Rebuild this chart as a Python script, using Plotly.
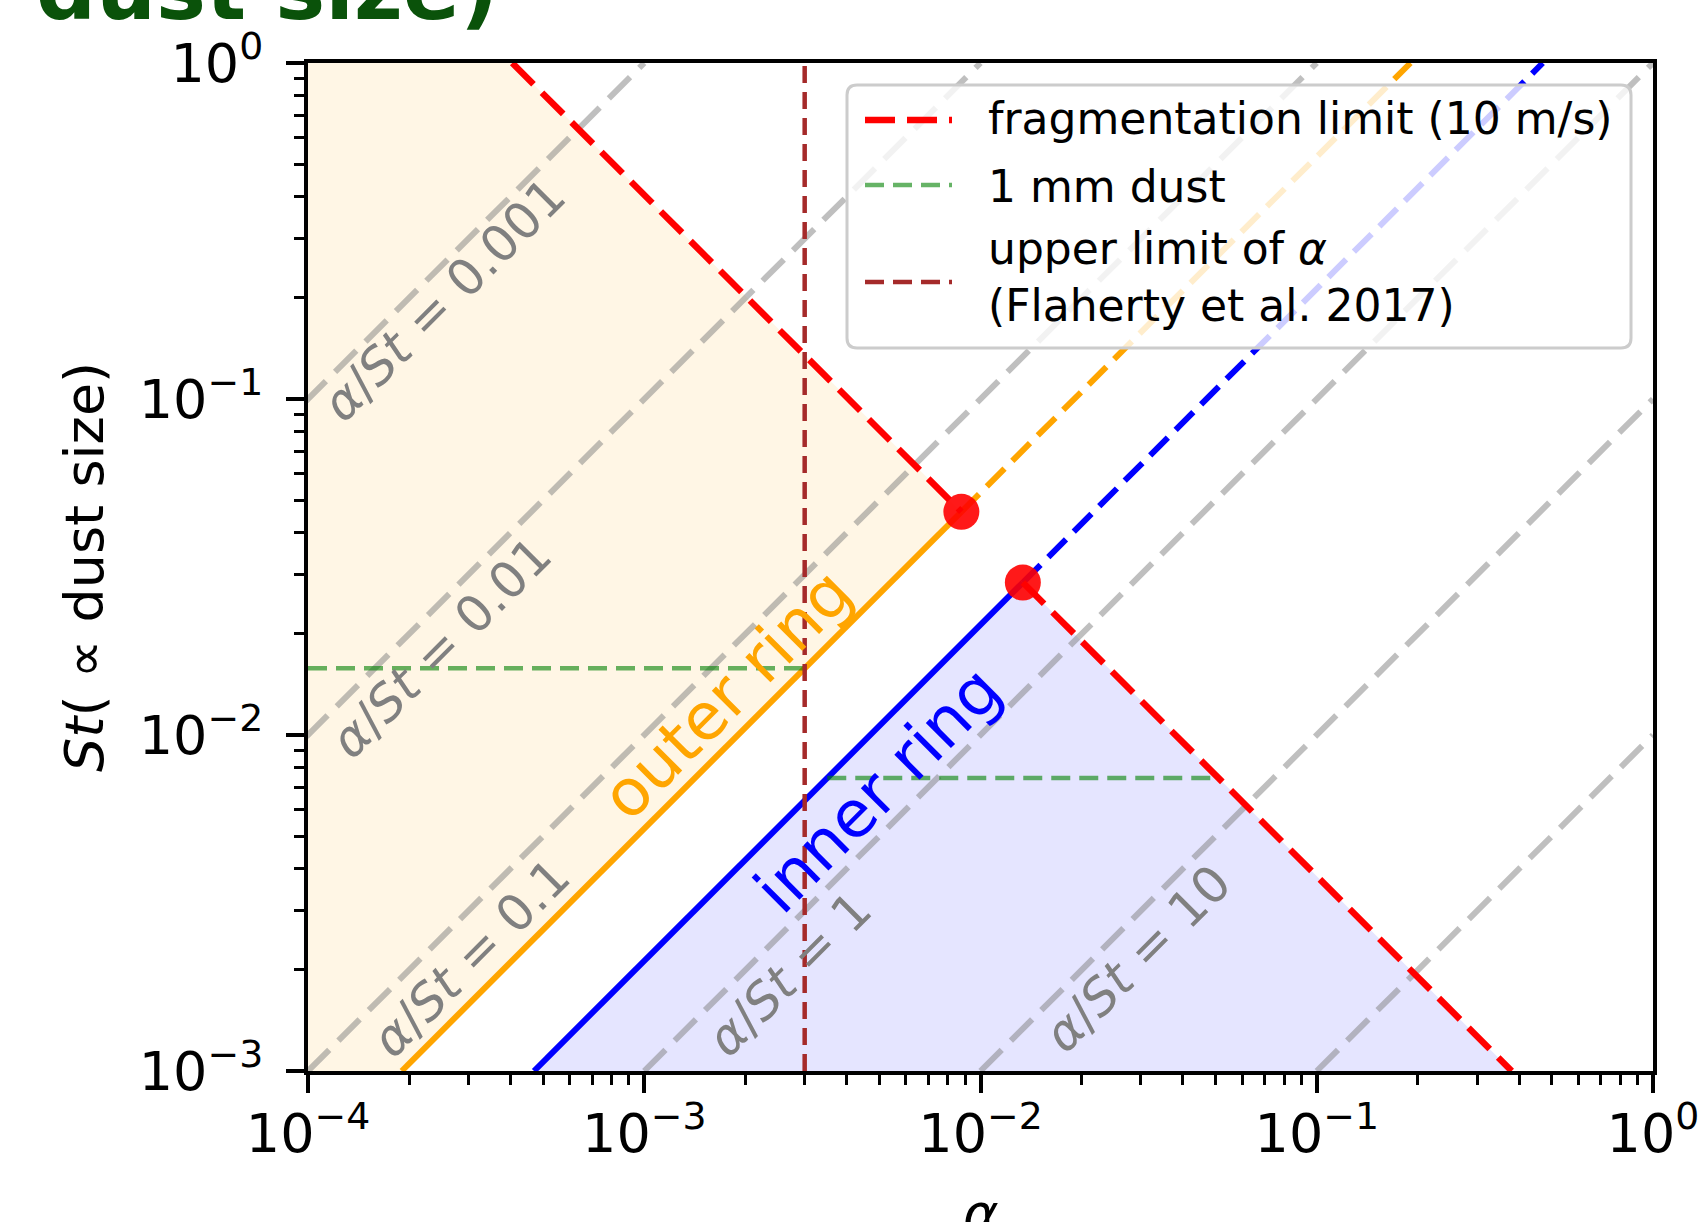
import numpy as np
import plotly.graph_objects as go

# ---------------- data ----------------
alpha_min, alpha_max = 1e-4, 1.0          # x-axis range (alpha)
st_min, st_max = 1e-3, 1.0                # y-axis range (Stokes number)

ratio_values = [0.001, 0.01, 0.1, 1, 10, 100]      # grey guide lines alpha/St
ratio_labels = ["0.001", "0.01", "0.1", "1", "10"]  # labelled guide lines

ring_names = ["outer ring", "inner ring"]
ring_ratio = [0.19, 0.47]            # alpha/St along each ring line
ring_frag_const = [4.05e-4, 3.8e-4]  # St_frag * alpha (fragmentation limit, 10 m/s)
ring_st_1mm = [0.0158, 0.00745]      # St of 1 mm dust in each ring
alpha_upper = 3e-3                   # upper limit of alpha (Flaherty et al. 2017)

x_tick_vals = [1e-4, 1e-3, 1e-2, 1e-1, 1e0]
x_tick_text = ["10<sup>−4</sup>", "10<sup>−3</sup>", "10<sup>−2</sup>", "10<sup>−1</sup>", "10<sup>0</sup>"]
y_tick_vals = [1e-3, 1e-2, 1e-1, 1e0]
y_tick_text = ["10<sup>−3</sup>", "10<sup>−2</sup>", "10<sup>−1</sup>", "10<sup>0</sup>"]

legend_labels = ["fragmentation limit (10 m/s)", "1 mm dust",
                 "upper limit of <i>α</i><br>(Flaherty et al. 2017)"]

# ---------------- styling / placement ----------------
FONT = "DejaVu Sans"
ORANGE, BLUE, RED = "#FFA500", "#0000FF", "#FF0000"
GREEN = "rgba(0,128,0,0.6)"
BROWN = "#A52A2A"
GREY_LINE = "rgba(128,128,128,0.5)"
ring_colors = [ORANGE, BLUE]
ring_fill = ["rgba(255,165,0,0.1)", "rgba(0,0,255,0.1)"]

L, R, T, B = 308, 53, 63, 151
W, H = 1706, 1222
PW, PH = W - L - R, H - T - B


def px_x(px):
    return (px - L) / PW


def px_y(py):
    return (T + PH - py) / PH


minor_x = [m * 10.0 ** e for e in range(-4, 0) for m in range(2, 10)]
minor_y = [m * 10.0 ** e for e in range(-3, 0) for m in range(2, 10)]

fig = go.Figure()

# intersections of ring lines with fragmentation limits
dot_alpha = [np.sqrt(r * k) for r, k in zip(ring_ratio, ring_frag_const)]
dot_st = [np.sqrt(k / r) for r, k in zip(ring_ratio, ring_frag_const)]

# ---- filled regions ----
r, k = ring_ratio[0], ring_frag_const[0]
fig.add_trace(go.Scatter(
    x=[alpha_min, alpha_min, k / st_max, dot_alpha[0], r * st_min, alpha_min],
    y=[st_min, st_max, st_max, dot_st[0], st_min, st_min],
    fill="toself", fillcolor=ring_fill[0], mode="lines", line=dict(width=0),
    hoverinfo="skip", showlegend=False))
r, k = ring_ratio[1], ring_frag_const[1]
fig.add_trace(go.Scatter(
    x=[r * st_min, dot_alpha[1], k / st_min, r * st_min],
    y=[st_min, dot_st[1], st_min, st_min],
    fill="toself", fillcolor=ring_fill[1], mode="lines", line=dict(width=0),
    hoverinfo="skip", showlegend=False))

# ---- grey alpha/St guide lines ----
for rv in ratio_values:
    s_top = min(st_max, alpha_max / rv)
    fig.add_trace(go.Scatter(
        x=[rv * st_min, rv * s_top], y=[st_min, s_top], mode="lines",
        line=dict(color=GREY_LINE, width=6, dash="30px,13px"),
        hoverinfo="skip", showlegend=False))

# ---- ring lines ----
for i in range(2):
    r = ring_ratio[i]
    fig.add_trace(go.Scatter(
        x=[r * st_min, dot_alpha[i]], y=[st_min, dot_st[i]], mode="lines",
        line=dict(color=ring_colors[i], width=6), showlegend=False, name=ring_names[i]))
    fig.add_trace(go.Scatter(
        x=[dot_alpha[i], r * st_max], y=[dot_st[i], st_max], mode="lines",
        line=dict(color=ring_colors[i], width=6, dash="25px,11px"), showlegend=False))

# ---- fragmentation limits ----
k = ring_frag_const[0]
fig.add_trace(go.Scatter(
    x=[k / st_max, dot_alpha[0]], y=[st_max, dot_st[0]], mode="lines",
    line=dict(color=RED, width=6.5, dash="30px,12px"), showlegend=False,
    name=legend_labels[0]))
k = ring_frag_const[1]
fig.add_trace(go.Scatter(
    x=[dot_alpha[1], k / st_min], y=[dot_st[1], st_min], mode="lines",
    line=dict(color=RED, width=6.5, dash="30px,12px"), showlegend=False))

# ---- 1 mm dust ----
s1 = ring_st_1mm[0]
fig.add_trace(go.Scatter(
    x=[alpha_min, ring_ratio[0] * s1], y=[s1, s1], mode="lines",
    line=dict(color=GREEN, width=4.5, dash="19px,9px"), showlegend=False, name="1 mm dust"))
s1 = ring_st_1mm[1]
fig.add_trace(go.Scatter(
    x=[ring_ratio[1] * s1, ring_frag_const[1] / s1], y=[s1, s1], mode="lines",
    line=dict(color=GREEN, width=4.5, dash="19px,9px"), showlegend=False))

# ---- upper limit of alpha ----
fig.add_trace(go.Scatter(
    x=[alpha_upper, alpha_upper], y=[st_min, st_max], mode="lines",
    line=dict(color=BROWN, width=4.5, dash="17px,9px"), showlegend=False))

# ---- intersection dots ----
fig.add_trace(go.Scatter(
    x=dot_alpha, y=dot_st, mode="markers",
    marker=dict(color="rgba(255,0,0,0.9)", size=36, line=dict(width=0)),
    showlegend=False))

# ---------------- annotations ----------------
ann = []
grey_label_pos = [(-3.596, -0.705), (-3.605, -1.740), (-3.515, -2.664),
                  (-2.568, -2.711), (-1.533, -2.668)]
for lab, (lx, ly) in zip(ratio_labels, grey_label_pos):
    ann.append(dict(x=lx, y=ly, xref="x", yref="y", showarrow=False,
                    xanchor="center", yanchor="middle",
                    text="<i>α</i>/<i>St</i> = " + lab, textangle=-45,
                    font=dict(family=FONT, size=50, color="#808080")))
ring_label_pos = [(-2.756, -1.878), (-2.306, -2.161)]
for i, (lx, ly) in enumerate(ring_label_pos):
    ann.append(dict(x=lx, y=ly, xref="x", yref="y", showarrow=False,
                    xanchor="center", yanchor="middle",
                    text=ring_names[i], textangle=-45,
                    font=dict(family=FONT, size=65, color=ring_colors[i])))

# axis titles
ann.append(dict(x=px_x(84), y=0.5, xref="paper", yref="paper", showarrow=False,
                xanchor="center", yanchor="middle",
                text="<i>St</i>( ∝ dust size)", textangle=-90,
                font=dict(family=FONT, size=54, color="black")))
ann.append(dict(x=0.5, y=px_y(1213), xref="paper", yref="paper", showarrow=False,
                xanchor="center", yanchor="middle",
                text="<i>α</i>", font=dict(family=FONT, size=54, color="black")))
# clipped title fragment
ann.append(dict(x=px_x(34), y=px_y(-10), xref="paper", yref="paper", showarrow=False,
                xanchor="left", yanchor="middle", text="<b>dust size)</b>",
                font=dict(family=FONT, size=84, color="#0a520a")))

# ---- legend (drawn as shapes + text) ----
bx0, bx1, by0, by1 = px_x(847), px_x(1631), px_y(348), px_y(85)
rx, ry = 10 / PW, 10 / PH
box_path = (f"M {bx0+rx},{by1} L {bx1-rx},{by1} Q {bx1},{by1} {bx1},{by1-ry} "
            f"L {bx1},{by0+ry} Q {bx1},{by0} {bx1-rx},{by0} L {bx0+rx},{by0} "
            f"Q {bx0},{by0} {bx0},{by0+ry} L {bx0},{by1-ry} Q {bx0},{by1} {bx0+rx},{by1} Z")
shapes = [dict(type="path", path=box_path, xref="paper", yref="paper", layer="above",
               fillcolor="rgba(255,255,255,0.8)", line=dict(color="#cccccc", width=3))]
legend_styles = [(RED, 6.5, "30px,12px"), (GREEN, 4.5, "19px,9px"), (BROWN, 4.5, "19px,9px")]
legend_sym_y = [120, 185, 282]
legend_txt_y = [118, 186, 277]
for lab, (c, w, d), sy, ty in zip(legend_labels, legend_styles, legend_sym_y, legend_txt_y):
    shapes.append(dict(type="line", xref="paper", yref="paper", layer="above",
                       x0=px_x(865), x1=px_x(952), y0=px_y(sy), y1=px_y(sy),
                       line=dict(color=c, width=w, dash=d)))
    ann.append(dict(x=px_x(986), y=px_y(ty), xref="paper", yref="paper", showarrow=False,
                    xanchor="left", yanchor="middle", align="left", text=lab,
                    font=dict(family=FONT, size=44, color="black")))

axis_common = dict(
    type="log", showline=True, linecolor="black", linewidth=4, mirror=True,
    showgrid=False, zeroline=False, ticks="outside", ticklen=18, tickwidth=3.5,
    tickcolor="black", tickmode="array",
    tickfont=dict(family=FONT, size=54, color="black"),
)

fig.update_layout(
    width=W, height=H,
    margin=dict(l=L, r=R, t=T, b=B, autoexpand=False),
    paper_bgcolor="white", plot_bgcolor="white",
    font=dict(family=FONT, color="black"),
    showlegend=False,
    xaxis=dict(range=[np.log10(alpha_min), np.log10(alpha_max)],
               tickvals=x_tick_vals, ticktext=x_tick_text, ticklabelstandoff=-6,
               minor=dict(tickmode="array", tickvals=minor_x, ticks="outside",
                          ticklen=10, tickwidth=2.5, tickcolor="black", showgrid=False),
               **axis_common),
    yaxis=dict(range=[np.log10(st_min), np.log10(st_max)],
               tickvals=y_tick_vals, ticktext=y_tick_text, ticklabelstandoff=12,
               minor=dict(tickmode="array", tickvals=minor_y, ticks="outside",
                          ticklen=10, tickwidth=2.5, tickcolor="black", showgrid=False),
               **axis_common),
    annotations=ann,
    shapes=shapes,
)

fig.write_html("out.html", config={"displayModeBar": False},
               post_script="document.body.style.margin='0';document.body.style.padding='0';")
